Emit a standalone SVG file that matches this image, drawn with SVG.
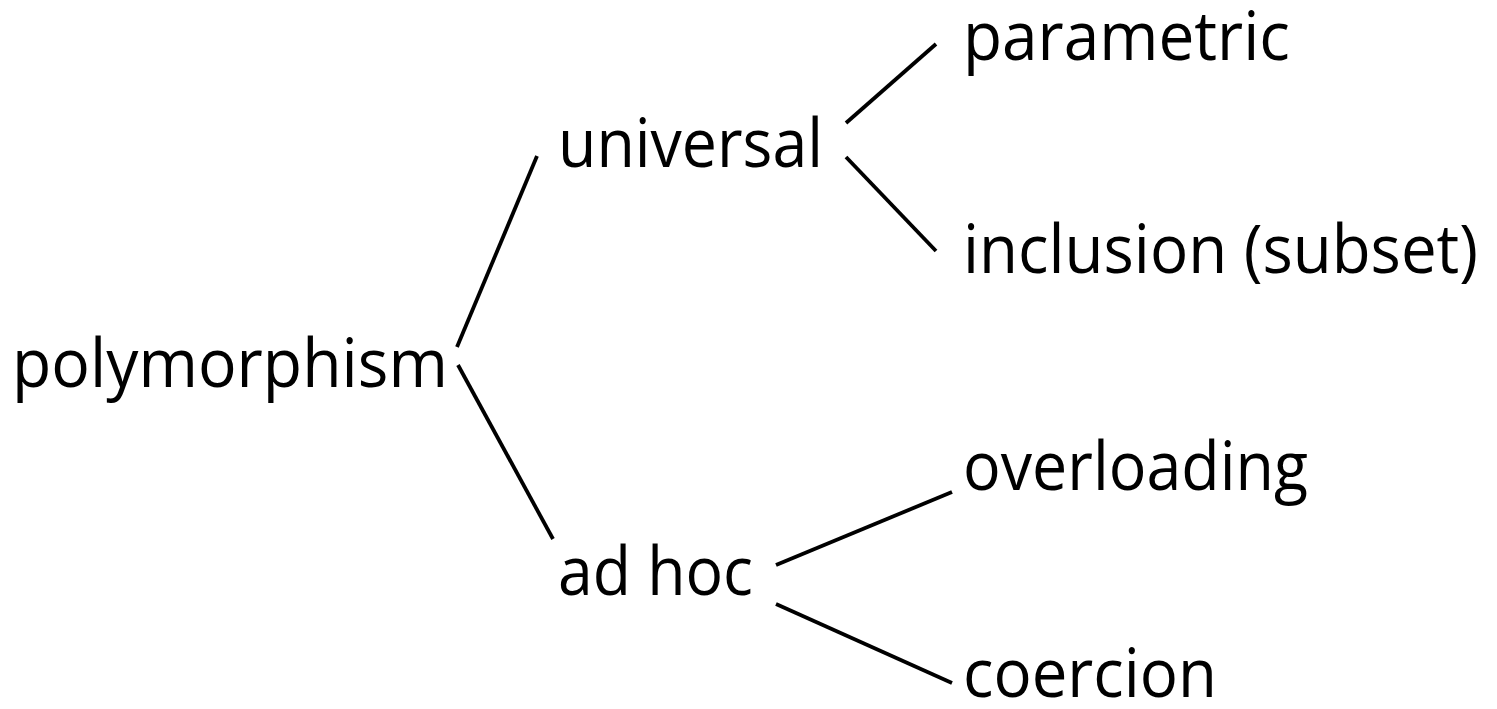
<svg xmlns="http://www.w3.org/2000/svg" width="1497" height="709" viewBox="0 0 1497 709">
  <style>
    .label { font-family: "Open Sans", Lato, "Liberation Sans", sans-serif; font-size: 67px; fill: #000; }
    .edge { stroke: #000; stroke-width: 3.8; stroke-linecap: butt; fill: none; }
  </style>
  <rect width="1497" height="709" fill="#fff"/>

  <!-- tree branches -->
  <g id="connectors">
    <line class="edge" x1="457" y1="347" x2="537" y2="156"/>
    <line class="edge" x1="458" y1="365" x2="553" y2="539"/>
    <line class="edge" x1="846" y1="123" x2="936" y2="44"/>
    <line class="edge" x1="846" y1="157" x2="936" y2="251"/>
    <line class="edge" x1="776" y1="565" x2="952" y2="492"/>
    <line class="edge" x1="776" y1="604" x2="952" y2="683"/>
  </g>

  <g id="node-polymorphism">
    <text class="label" x="12" y="387" textLength="436" lengthAdjust="spacingAndGlyphs">polymorphism</text>
  </g>
  <g id="node-universal">
    <text class="label" x="558" y="167" textLength="265" lengthAdjust="spacingAndGlyphs">universal</text>
  </g>
  <g id="node-adhoc">
    <text class="label" x="558" y="595" textLength="195" lengthAdjust="spacingAndGlyphs">ad hoc</text>
  </g>
  <g id="node-parametric">
    <text class="label" x="963" y="60" textLength="327" lengthAdjust="spacingAndGlyphs">parametric</text>
  </g>
  <g id="node-inclusion">
    <text class="label" x="963" y="273" textLength="515" lengthAdjust="spacingAndGlyphs">inclusion (subset)</text>
  </g>
  <g id="node-overloading">
    <text class="label" x="963" y="490" textLength="345" lengthAdjust="spacingAndGlyphs">overloading</text>
  </g>
  <g id="node-coercion">
    <text class="label" x="963" y="697" textLength="254" lengthAdjust="spacingAndGlyphs">coercion</text>
  </g>
</svg>
